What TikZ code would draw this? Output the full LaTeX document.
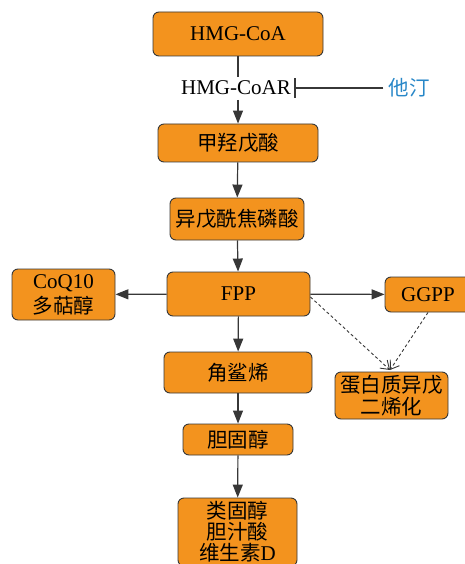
\documentclass[tikz,border=0pt]{standalone}
\usepackage{fontspec}
\setmainfont{Liberation Serif}
\newfontfamily\cjk{Noto Sans CJK SC}
\usetikzlibrary{arrows.meta}
\definecolor{boxorange}{RGB}{243,147,30}
\definecolor{edgegray}{RGB}{55,55,55}
\definecolor{statinblue}{RGB}{40,135,200}
\tikzset{
  stepbox/.style={draw=edgegray, line width=0.9pt, fill=boxorange, rounded corners=6pt,
    inner sep=0pt, align=center, font=\fontsize{21}{23}\selectfont},
  cjkbox/.style={stepbox, font=\fontsize{20.5}{22}\selectfont\cjk},
  flow/.style={draw=edgegray, line width=1.2pt, -{Triangle[length=13pt,width=10pt]}},
  dashflow/.style={draw=edgegray, line width=0.9pt, dashed, dash pattern=on 3pt off 2.5pt, -{Straight Barb[length=8pt,width=11pt]}},
  inhib/.style={draw=edgegray, line width=1.2pt, -{Bar[width=20pt,line width=1.6pt]}}
}
\begin{document}
\begin{tikzpicture}[x=1pt,y=-1pt]
\useasboundingbox (0,0) rectangle (465,564);
\node[stepbox, minimum width=170pt, minimum height=44pt] (hmg) at (238,34) {HMG-CoA};
\node[inner sep=0pt, font=\fontsize{21}{23}\selectfont] (hmgr) at (236,88) {HMG-CoAR};
\node[inner sep=0pt, text=statinblue, font=\fontsize{20.5}{23}\selectfont\cjk] (statin) at (409,88) {他汀};
\coordinate (rtop) at (238,77);
\coordinate (rbot) at (238,100);
\node[cjkbox, minimum width=160pt, minimum height=38pt] (mva) at (238,143) {甲羟戊酸};
\node[cjkbox, minimum width=134pt, minimum height=42pt] (ipp) at (237,219) {异戊酰焦磷酸};
\node[stepbox, minimum width=143pt, minimum height=44pt] (fpp) at (238.5,294) {FPP};
\node[stepbox, minimum width=103pt, minimum height=51pt, font=\fontsize{21}{24}\selectfont] (coq) at (63.5,294.5) {CoQ10\\[1pt]{\cjk\fontsize{20.5}{24}\selectfont 多萜醇}};
\node[stepbox, minimum width=86pt, minimum height=35pt] (ggpp) at (428,294.5) {GGPP};
\node[cjkbox, minimum width=148pt, minimum height=41pt] (sq) at (238,372.5) {角鲨烯};
\node[cjkbox, minimum width=113pt, minimum height=47pt] (prot) at (391.5,395.5) {蛋白质异戊\\二烯化};
\node[cjkbox, minimum width=110pt, minimum height=31pt] (chol) at (238,439.5) {胆固醇};
\node[cjkbox, minimum width=119pt, minimum height=68pt, font=\fontsize{20.5}{21}\selectfont\cjk] (end) at (237.5,532) {类固醇\\胆汁酸\\维生素{\rmfamily\fontsize{21}{21}\selectfont D}};
\coordinate (meet) at (390,370);
\draw[draw=edgegray, line width=1.2pt] (hmg.south) -- (rtop);
\draw[flow] (rbot) -- (mva.north);
\draw[inhib] ([xshift=-5pt]statin.west) -- ([xshift=3pt]hmgr.east);
\draw[flow] (mva) -- (ipp);
\draw[flow] (ipp) -- (fpp);
\draw[flow] (fpp) -- (coq);
\draw[flow] (fpp) -- (ggpp);
\draw[flow] (fpp) -- (sq);
\draw[flow] (sq) -- (chol);
\draw[flow] (chol) -- (end);
\draw[dashflow] ([yshift=-3pt]fpp.east) -- (meet);
\draw[dashflow] (ggpp.south) -- (meet);
\end{tikzpicture}
\end{document}
